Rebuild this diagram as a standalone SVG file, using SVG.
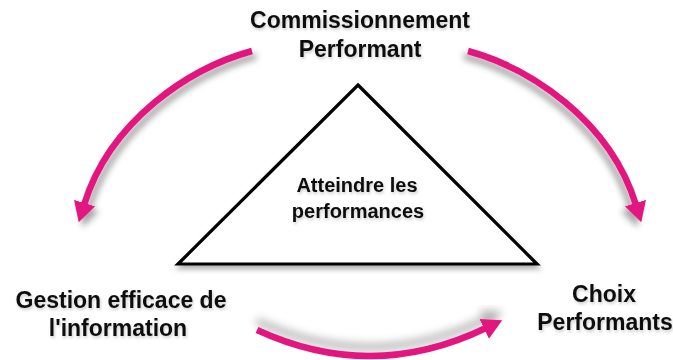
<svg xmlns="http://www.w3.org/2000/svg" width="673" height="360" viewBox="0 0 673 360">
  <style>
    .lbl { font-family: "Liberation Sans", Arial, sans-serif; font-weight: bold; fill: #111; text-anchor: middle; }
    .outer { font-size: 23px; }
    .inner { font-size: 20px; }
    .arc { fill: none; stroke: #e3157f; stroke-width: 6.5; stroke-linecap: butt; }
    .tri { fill: #ffffff; stroke: #000; stroke-width: 3.2; stroke-linejoin: miter; }
  </style>
  <defs>
    <marker id="head" markerUnits="userSpaceOnUse" markerWidth="24" markerHeight="24" refX="2" refY="12" orient="auto">
      <polygon points="0,1 20,12 0,23" fill="#e3157f"/>
    </marker>
    <filter id="shTL" x="-30%" y="-30%" width="160%" height="160%">
      <feGaussianBlur in="SourceAlpha" stdDeviation="3"/>
      <feOffset dx="4" dy="5" result="b"/>
      <feFlood flood-color="#000" flood-opacity="0.35"/>
      <feComposite in2="b" operator="in"/>
      <feMerge><feMergeNode/><feMergeNode in="SourceGraphic"/></feMerge>
    </filter>
    <filter id="shTR" x="-30%" y="-30%" width="160%" height="160%">
      <feGaussianBlur in="SourceAlpha" stdDeviation="3"/>
      <feOffset dx="-4" dy="5" result="b"/>
      <feFlood flood-color="#000" flood-opacity="0.35"/>
      <feComposite in2="b" operator="in"/>
      <feMerge><feMergeNode/><feMergeNode in="SourceGraphic"/></feMerge>
    </filter>
    <filter id="shB" x="-30%" y="-80%" width="160%" height="260%">
      <feGaussianBlur in="SourceAlpha" stdDeviation="4"/>
      <feOffset dx="0" dy="-9" result="b"/>
      <feFlood flood-color="#000" flood-opacity="0.3"/>
      <feComposite in2="b" operator="in"/>
      <feMerge><feMergeNode/><feMergeNode in="SourceGraphic"/></feMerge>
    </filter>
    <filter id="shTri" x="-20%" y="-20%" width="140%" height="140%">
      <feGaussianBlur in="SourceAlpha" stdDeviation="2.5"/>
      <feOffset dx="1" dy="4" result="b"/>
      <feFlood flood-color="#000" flood-opacity="0.3"/>
      <feComposite in2="b" operator="in"/>
      <feMerge><feMergeNode/><feMergeNode in="SourceGraphic"/></feMerge>
    </filter>
    <filter id="shTxt" x="-10%" y="-30%" width="120%" height="160%">
      <feGaussianBlur in="SourceAlpha" stdDeviation="1.5"/>
      <feOffset dx="1" dy="1.5" result="b"/>
      <feFlood flood-color="#000" flood-opacity="0.2"/>
      <feComposite in2="b" operator="in"/>
      <feMerge><feMergeNode/><feMergeNode in="SourceGraphic"/></feMerge>
    </filter>
  </defs>
  <rect width="673" height="360" fill="#ffffff"/>

  <g id="center">
    <polygon class="tri" points="358,85 537,264 178,264" filter="url(#shTri)"/>
    <text class="lbl inner" filter="url(#shTxt)"><tspan x="357" y="192">Atteindre les</tspan><tspan x="358" y="218">performances</tspan></text>
  </g>

  <g id="commissionnement">
    <text class="lbl outer" filter="url(#shTxt)"><tspan x="360" y="28">Commissionnement</tspan><tspan x="360" y="57">Performant</tspan></text>
  </g>

  <g id="gestion">
    <text class="lbl outer" filter="url(#shTxt)"><tspan x="121" y="308">Gestion efficace de</tspan><tspan x="118" y="336">l'information</tspan></text>
  </g>

  <g id="choix">
    <text class="lbl outer" filter="url(#shTxt)"><tspan x="604" y="302">Choix</tspan><tspan x="605" y="330">Performants</tspan></text>
  </g>

  <g id="connectors">
    <path class="arc" d="M252,51 C190,68 110,120 84,205" marker-end="url(#head)" filter="url(#shTL)"/>
    <path class="arc" d="M468,51 C530,68 610,120 636,205" marker-end="url(#head)" filter="url(#shTR)"/>
    <path class="arc" d="M257,330 Q372,383 486,328" marker-end="url(#head)" filter="url(#shB)"/>
  </g>
</svg>
